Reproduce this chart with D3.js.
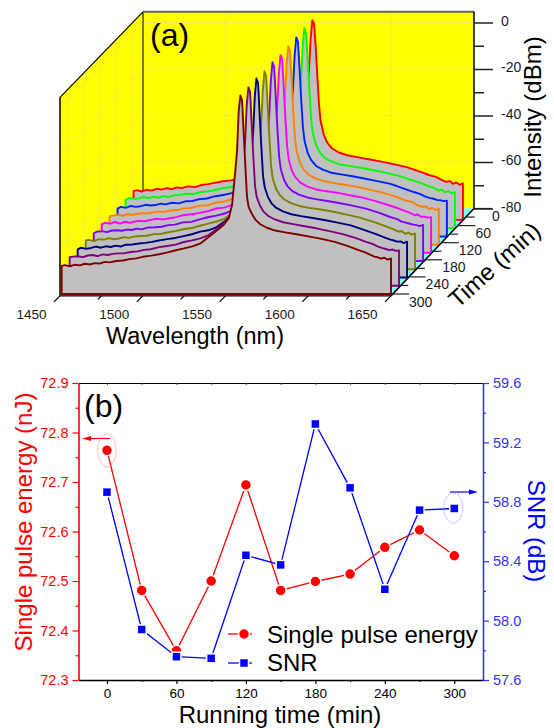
<!DOCTYPE html>
<html>
<head>
<meta charset="utf-8">
<script src="https://cdnjs.cloudflare.com/ajax/libs/d3/7.8.5/d3.min.js"></script>
<style>
  html, body { margin: 0; padding: 0; background: #fff; }
  text { font-family: "Liberation Sans", Arial, sans-serif; }
</style>
</head>
<body>
<div id="chart"></div>
<script>
// ==============================
// Data: panel (a), spectra (dBm)
// ==============================
var wavelengths = [1451,1453,1456,1459,1462,1465,1468,1471,1474,1477,1480,1484,1488,1492,1496,1500,1505,1510,1515,1520,1525,1530,1535,1540,1545,1549,1552,1554,1555,1556,1557,1558,1559,1560,1561,1562,1563,1564,1566,1568,1571,1575,1580,1586,1593,1600,1608,1616,1624,1630,1634,1637,1640,1642,1644,1646,1648,1650];

// Back to front. Position on the time axis
var seriesTime = [40, 69, 98, 127, 155, 184, 213, 242, 271, 300];
var seriesColors = ["#ff0000", "#00ff00", "#0022ff", "#ff8000", "#ff00ff", "#8000ff", "#808000", "#000080", "#800080", "#800000"];

var specRed     = [-67.6,-67.2,-67.8,-67.0,-67.4,-66.6,-67.0,-66.3,-66.8,-66.0,-66.3,-65.6,-65.9,-65.0,-64.6,-64.1,-63.4,-63.0,-62.0,-61.3,-60.3,-59.2,-57.8,-55.2,-52.0,-49.4,-46.6,-41.0,-33.0,-24.5,-15.5,-2.0,5.9,4.6,-5.0,-18.0,-30.0,-37.5,-43.5,-46.8,-49.3,-51.0,-52.2,-53.0,-53.9,-54.8,-56.0,-57.3,-59.2,-60.8,-61.6,-62.8,-63.6,-63.3,-64.5,-63.9,-64.9,-64.3];
var specGreen   = [-67.9,-67.0,-67.5,-67.2,-66.6,-67.1,-66.5,-66.9,-66.2,-66.6,-65.9,-65.7,-65.2,-65.3,-64.5,-64.3,-63.6,-62.8,-62.3,-61.1,-60.5,-59.4,-58.0,-55.5,-52.4,-49.8,-46.9,-41.3,-33.5,-25.0,-16.0,-2.5,6.0,4.0,-7.0,-20.0,-32.0,-38.5,-44.0,-47.0,-49.6,-51.2,-52.5,-53.2,-54.0,-55.0,-56.1,-57.5,-59.3,-60.7,-61.9,-62.6,-63.8,-63.4,-64.6,-64.1,-65.0,-64.5];
var specBlue    = [-68.0,-67.3,-67.7,-66.9,-67.3,-67.0,-66.4,-66.7,-66.5,-65.9,-66.2,-65.5,-65.8,-64.9,-64.8,-64.0,-63.7,-62.7,-62.2,-61.4,-60.2,-59.5,-57.9,-55.6,-52.2,-49.9,-47.0,-41.2,-33.2,-25.2,-16.4,-2.2,5.6,3.8,-8.0,-21.5,-33.0,-39.0,-44.3,-47.2,-49.7,-51.3,-52.6,-53.3,-54.1,-55.1,-56.2,-57.4,-59.4,-60.9,-61.8,-62.9,-63.5,-63.8,-64.3,-64.4,-64.8,-64.6];
var specOrange  = [-67.7,-67.5,-67.1,-67.6,-66.8,-67.2,-66.7,-66.4,-66.6,-66.2,-65.8,-65.9,-65.3,-65.1,-64.4,-64.2,-63.3,-63.1,-61.9,-61.5,-60.4,-59.3,-58.1,-55.3,-52.3,-49.7,-47.1,-41.4,-33.4,-25.4,-16.6,-2.6,5.3,3.6,-9.0,-22.5,-33.8,-39.6,-44.6,-47.4,-49.8,-51.4,-52.6,-53.4,-54.2,-55.0,-56.3,-57.6,-59.3,-61.0,-61.7,-63.0,-63.7,-63.5,-64.7,-64.2,-65.1,-64.4];
var specMagenta = [-67.8,-67.1,-67.6,-66.8,-67.5,-66.7,-67.2,-66.6,-66.3,-66.5,-66.0,-65.4,-65.7,-65.2,-64.7,-63.9,-63.5,-62.9,-62.2,-61.0,-60.6,-59.4,-58.0,-55.4,-52.5,-50.0,-47.2,-41.6,-33.6,-25.6,-17.0,-3.0,4.9,3.2,-9.5,-23.0,-34.5,-40.0,-45.0,-47.6,-49.9,-51.5,-52.7,-53.5,-54.2,-55.2,-56.2,-57.7,-59.5,-60.9,-62.0,-62.8,-63.9,-63.6,-64.6,-64.5,-64.9,-64.7];
var specViolet  = [-68.1,-67.4,-67.2,-67.6,-66.9,-66.8,-67.0,-66.5,-66.7,-66.1,-66.4,-65.6,-65.5,-65.3,-64.6,-64.4,-63.4,-63.2,-62.1,-61.2,-60.5,-59.6,-58.1,-55.5,-52.6,-50.1,-47.3,-41.4,-33.8,-26.0,-17.2,-2.4,5.5,3.5,-10.0,-23.5,-35.0,-40.5,-45.2,-47.8,-50.0,-51.5,-52.7,-53.5,-54.3,-55.2,-56.3,-57.6,-59.4,-61.1,-61.9,-63.1,-63.6,-64.0,-64.4,-64.6,-65.0,-64.5];
var specOlive   = [-67.6,-67.4,-67.9,-67.1,-67.3,-66.6,-67.1,-66.8,-66.2,-66.5,-66.0,-65.7,-65.6,-64.9,-64.9,-64.2,-63.6,-62.8,-62.3,-61.3,-60.4,-59.5,-58.2,-55.6,-52.5,-50.2,-47.3,-41.7,-34.0,-26.2,-17.6,-3.0,5.1,3.2,-10.5,-24.0,-35.8,-41.0,-45.4,-47.9,-50.0,-51.6,-52.8,-53.6,-54.3,-55.2,-56.4,-57.7,-59.4,-60.9,-62.0,-62.9,-63.8,-63.7,-64.8,-64.3,-65.1,-64.6];
var specNavy    = [-67.9,-67.2,-67.7,-67.3,-66.7,-67.2,-66.6,-66.9,-66.3,-66.7,-65.9,-65.8,-65.4,-65.1,-64.7,-64.1,-63.5,-63.0,-62.2,-61.4,-60.3,-59.7,-58.3,-55.7,-52.7,-50.1,-47.4,-41.6,-34.0,-26.4,-17.8,-2.2,5.6,3.6,-10.8,-24.4,-36.4,-41.2,-45.5,-48.0,-50.1,-51.6,-52.8,-53.6,-54.4,-55.3,-56.4,-57.6,-59.5,-61.0,-62.1,-63.0,-63.7,-64.1,-64.6,-64.5,-65.2,-64.6];
var specPurple  = [-67.7,-67.5,-67.3,-67.7,-67.0,-66.8,-67.3,-66.5,-66.8,-66.3,-66.1,-66.0,-65.5,-65.2,-64.6,-64.3,-63.4,-62.9,-62.3,-61.2,-60.5,-59.6,-58.2,-55.5,-52.6,-50.2,-47.5,-41.5,-34.0,-26.5,-18.0,-2.0,5.3,3.3,-11.0,-24.8,-37.2,-41.8,-45.6,-48.0,-50.0,-51.5,-52.7,-53.5,-54.4,-55.3,-56.5,-57.8,-59.5,-61.1,-62.0,-63.1,-63.8,-64.2,-64.7,-64.4,-65.0,-64.8];
var specMaroon  = [-67.9,-67.6,-68.1,-67.4,-67.7,-67.0,-67.3,-66.7,-66.9,-66.2,-66.4,-65.8,-65.6,-65.0,-64.7,-64.0,-63.5,-62.9,-62.1,-61.2,-60.4,-59.5,-58.2,-55.4,-52.6,-50.2,-47.4,-41.5,-34.0,-26.5,-18.0,-1.0,5.4,3.4,-11.0,-25.0,-38.3,-42.6,-45.6,-48.0,-50.0,-51.5,-52.7,-53.5,-54.3,-55.2,-56.3,-57.6,-59.4,-61.0,-62.0,-63.0,-63.9,-64.2,-64.8,-64.4,-65.2,-64.7];

var spectra = [specRed, specGreen, specBlue, specOrange, specMagenta, specViolet, specOlive, specNavy, specPurple, specMaroon];

var wavelengthTicks = [1450, 1500, 1550, 1600, 1650];
var wavelengthMinor = [1475, 1525, 1575, 1625];
var intensityTicks = [0, -20, -40, -60, -80];
var intensityMinor = [-10, -30, -50, -70];
var timeTicks = [0, 60, 120, 180, 240, 300];
var timeMinor = [30, 90, 150, 210, 270];

// ==============================
// Data: panel (b)
// ==============================
var runningTime = [0, 30, 60, 90, 120, 150, 180, 210, 240, 270, 300];
var pulseEnergy = [72.764, 72.481, 72.359, 72.5, 72.694, 72.481, 72.499, 72.514, 72.568, 72.603, 72.551];
var snr = [58.865, 57.94, 57.757, 57.746, 58.44, 58.375, 59.324, 58.894, 58.211, 58.744, 58.755];

var energyTicks = [72.3, 72.4, 72.5, 72.6, 72.7, 72.8, 72.9];
var energyMinor = [72.35, 72.45, 72.55, 72.65, 72.75, 72.85];
var snrTicks = [57.6, 58.0, 58.4, 58.8, 59.2, 59.6];
var snrMinor = [57.8, 58.2, 58.6, 59.0, 59.4];
var runTicks = [0, 60, 120, 180, 240, 300];
var runMinor = [30, 90, 150, 210, 270];

// ==============================
// Setup SVG Area
// ==============================
var svg = d3.select("#chart").append("svg")
  .attr("width", 554)
  .attr("height", 728)
  .style("display", "block");

// ==============================
// Panel (a): oblique 3D projection
// ==============================
var xScale = d3.scaleLinear().domain([1450, 1650]).range([60, 391]);
var zScale = d3.scaleLinear().domain([-80, 0]).range([294, 108]);
var depthX = d3.scaleLinear().domain([300, 0]).range([0, 83]);
var depthY = d3.scaleLinear().domain([300, 0]).range([0, -85.5]);

var px = (w, t) => xScale(w) + depthX(t);
var py = (z, t) => zScale(z) + depthY(t);
var corner = (w, z, t) => [px(w, t), py(z, t)];

var wallLine = d3.line();
var panelA = svg.append("g");

// Walls and floor
panelA.append("path")
  .attr("d", wallLine([corner(1450, -80, 0), corner(1650, -80, 0), corner(1650, 4.6, 0), corner(1450, 4.6, 0)]) + "Z")
  .attr("fill", "#ffff00");
panelA.append("path")
  .attr("d", wallLine([corner(1450, -80, 300), corner(1450, -80, 0), corner(1450, 4.6, 0), corner(1450, 4.6, 300)]) + "Z")
  .attr("fill", "#ffff00");
panelA.append("path")
  .attr("d", wallLine([corner(1450, -80.8, 300), corner(1650, -80.8, 300), corner(1650, -80, 0), corner(1450, -80, 0)]) + "Z")
  .attr("fill", "#80ffff");

// Dashed grid on the walls
var gridColor = "#dcdc90";
[-60, -40, -20, 0].forEach(function(z) {
  panelA.append("path")
    .attr("d", wallLine([corner(1450, z, 300), corner(1450, z, 0), corner(1650, z, 0)]))
    .attr("fill", "none").attr("stroke", gridColor).attr("stroke-dasharray", "2,2");
});
[1500, 1600].forEach(function(w) {
  panelA.append("path")
    .attr("d", wallLine([corner(w, -80, 0), corner(w, 4.6, 0)]))
    .attr("fill", "none").attr("stroke", gridColor).attr("stroke-dasharray", "2,2");
});
[40, 98, 155, 213, 271].forEach(function(t) {
  panelA.append("path")
    .attr("d", wallLine([corner(1450, -80, t), corner(1450, 4.6, t)]))
    .attr("fill", "none").attr("stroke", gridColor).attr("stroke-dasharray", "2,2");
});

// Frame lines behind the spectra
panelA.append("path")
  .attr("d", wallLine([corner(1450, -80, 0), corner(1450, 4.6, 0)]))
  .attr("stroke", "#4d4d20").attr("stroke-width", 1.5).attr("fill", "none");
panelA.append("path")
  .attr("d", wallLine([corner(1450, 4.6, 0), corner(1650, 4.6, 0)]))
  .attr("stroke", "#666").attr("stroke-width", 2).attr("fill", "none");
panelA.append("path")
  .attr("d", wallLine([corner(1450, 4.6, 300), corner(1450, 4.6, 0)]))
  .attr("stroke", "#000").attr("stroke-width", 1.2).attr("fill", "none");
panelA.append("path")
  .attr("d", wallLine([corner(1450, -80.8, 300), corner(1450, 4.6, 300)]))
  .attr("stroke", "#000").attr("stroke-width", 1.5).attr("fill", "none");
panelA.append("path")
  .attr("d", wallLine([corner(1650, -80, 0), corner(1650, 4.6, 0)]))
  .attr("stroke", "#000").attr("stroke-width", 1.5).attr("fill", "none");

// Spectra, filled down to the floor, back to front
spectra.forEach(function(values, i) {
  var t = seriesTime[i];
  var first = wavelengths[0];
  var last = wavelengths[wavelengths.length - 1];
  var pts = wavelengths.map((w, k) => corner(w, values[k], t));
  pts.unshift(corner(first, -80, t));
  pts.push(corner(last, -80, t));
  panelA.append("path")
    .attr("d", wallLine(pts) + "Z")
    .attr("fill", "#c0c0c0")
    .attr("stroke", seriesColors[i])
    .attr("stroke-width", 1.9)
    .attr("stroke-linejoin", "round");
});

// Front and time axis lines
panelA.append("path")
  .attr("d", wallLine([corner(1450, -80.8, 300), corner(1650, -80.8, 300)]))
  .attr("stroke", "#000").attr("stroke-width", 1.2).attr("fill", "none");
panelA.append("path")
  .attr("d", wallLine([corner(1650, -80.8, 300), corner(1650, -80, 0)]))
  .attr("stroke", "#000").attr("stroke-width", 1.5).attr("fill", "none");

// Wavelength ticks are slanted along the depth direction
var xTickBase = py(-80.8, 300);
wavelengthTicks.concat(wavelengthMinor).forEach(function(w) {
  var major = wavelengthTicks.indexOf(w) >= 0;
  var len = major ? 6 : 3.5;
  panelA.append("line")
    .attr("x1", xScale(w)).attr("y1", xTickBase)
    .attr("x2", xScale(w) - len).attr("y2", xTickBase + len)
    .attr("stroke", "#000").attr("stroke-width", 1.2);
});
panelA.selectAll(".wl-label")
  .data(wavelengthTicks)
  .enter().append("text")
  .attr("x", d => xScale(d) - 28.5)
  .attr("y", 319)
  .attr("text-anchor", "middle")
  .attr("font-size", 13.5)
  .attr("fill", "#1a1a1a")
  .text(d => d);

// Intensity axis on the back right edge
var zAxisScale = d3.scaleLinear().domain([-80, 0]).range([py(-80, 0), py(0, 0)]);
var zAxisGroup = panelA.append("g")
  .attr("transform", `translate(${px(1650, 0)}, 0)`);
zAxisGroup.call(d3.axisRight(zAxisScale).tickValues(intensityTicks).tickSize(19).tickPadding(8).tickFormat(d => String(d)));
zAxisGroup.select(".domain").remove();
zAxisGroup.selectAll("line").attr("stroke", "#222").attr("stroke-width", 1.5);
zAxisGroup.selectAll("text")
  .attr("font-size", 14).attr("font-family", "Liberation Sans").attr("fill", "#1a1a1a")
  .attr("dy", "0.18em");
var zMinorGroup = panelA.append("g")
  .attr("transform", `translate(${px(1650, 0)}, 0)`);
zMinorGroup.call(d3.axisRight(zAxisScale).tickValues(intensityMinor).tickSize(10).tickFormat(""));
zMinorGroup.select(".domain").remove();
zMinorGroup.selectAll("line").attr("stroke", "#222").attr("stroke-width", 1.5);

// Time axis, ticks run horizontally from the floor edge
timeTicks.concat(timeMinor).forEach(function(t) {
  var major = timeTicks.indexOf(t) >= 0;
  panelA.append("line")
    .attr("x1", px(1650, t)).attr("y1", py(-80, t))
    .attr("x2", px(1650, t) + (major ? 18 : 9)).attr("y2", py(-80, t))
    .attr("stroke", "#222").attr("stroke-width", 1.2);
});
panelA.selectAll(".time-label")
  .data(timeTicks)
  .enter().append("text")
  .attr("x", d => px(1650, d) + 18)
  .attr("y", d => py(-80, d) + 12.5)
  .attr("font-size", 14)
  .attr("fill", "#1a1a1a")
  .text(d => d);

// Titles
panelA.append("text").attr("x", 150).attr("y", 46).attr("font-size", 32).text("(a)");
panelA.append("text").attr("x", 195).attr("y", 343.5).attr("text-anchor", "middle").attr("font-size", 23.5).text("Wavelength (nm)");
panelA.append("text")
  .attr("transform", "translate(541, 117) rotate(-90)")
  .attr("text-anchor", "middle").attr("font-size", 24).text("Intensity (dBm)");
panelA.append("text")
  .attr("transform", "translate(500, 271) rotate(-42)")
  .attr("text-anchor", "middle").attr("font-size", 24).text("Time (min)");

// ==============================
// Panel (b): two y axes
// ==============================
var plot = { left: 78.5, right: 483, top: 383, bottom: 680 };
var redCol = "#ff0000";
var blueCol = "#0000ff";
var blueAxis = "#3333ff";

var runScale = d3.scaleLinear().domain([-24.6, 324.8]).range([plot.left, plot.right]);
var energyScale = d3.scaleLinear().domain([72.3, 72.9]).range([plot.bottom, plot.top]);
var snrScale = d3.scaleLinear().domain([57.6, 59.6]).range([plot.bottom, plot.top]);

var panelB = svg.append("g");

function drawAxis(axisFn, scale, translate, major, minor, size, color, fmt, fontSize) {
  var g = panelB.append("g").attr("transform", translate);
  g.call(axisFn(scale).tickValues(major).tickSize(size).tickSizeOuter(0).tickPadding(4).tickFormat(fmt));
  g.select(".domain").attr("stroke", color).attr("stroke-width", 1.6);
  g.selectAll("line").attr("stroke", color).attr("stroke-width", 1.2);
  g.selectAll("text")
    .attr("font-size", fontSize).attr("font-family", "Liberation Sans").attr("fill", color);
  var m = panelB.append("g").attr("transform", translate);
  m.call(axisFn(scale).tickValues(minor).tickSize(size / 2).tickSizeOuter(0).tickFormat(""));
  m.select(".domain").remove();
  m.selectAll("line").attr("stroke", color).attr("stroke-width", 1.2);
  return g;
}

// Top edge with small inward ticks
var topAxis = panelB.append("g").attr("transform", `translate(0, ${plot.top})`);
topAxis.call(d3.axisBottom(runScale).tickValues(runTicks.concat(runMinor)).tickSize(2).tickSizeOuter(0).tickFormat(""));
topAxis.select(".domain").attr("stroke", "#000").attr("stroke-width", 1.2);
topAxis.selectAll("line").attr("stroke", "#555");

drawAxis(d3.axisBottom, runScale, `translate(0, ${plot.bottom})`, runTicks, runMinor, 4, "#000", d => d, 13.5);
drawAxis(d3.axisLeft, energyScale, `translate(${plot.left}, 0)`, energyTicks, energyMinor, 6, redCol, d3.format(".1f"), 14.5);
drawAxis(d3.axisRight, snrScale, `translate(${plot.right}, 0)`, snrTicks, snrMinor, 6, blueAxis, d3.format(".1f"), 14.5);

// Lines
var energyLine = d3.line().x((d, i) => runScale(runningTime[i])).y(d => energyScale(d));
var snrLine = d3.line().x((d, i) => runScale(runningTime[i])).y(d => snrScale(d));

panelB.append("path").attr("d", energyLine(pulseEnergy))
  .attr("fill", "none").attr("stroke", redCol).attr("stroke-width", 1.3);
panelB.selectAll(".energy-pt")
  .data(pulseEnergy)
  .enter().append("circle")
  .attr("cx", (d, i) => runScale(runningTime[i]))
  .attr("cy", d => energyScale(d))
  .attr("r", 5.5)
  .attr("fill", redCol)
  .attr("stroke", "#fff").attr("stroke-width", 1.5);

panelB.append("path").attr("d", snrLine(snr))
  .attr("fill", "none").attr("stroke", blueCol).attr("stroke-width", 1.3);
panelB.selectAll(".snr-pt")
  .data(snr)
  .enter().append("rect")
  .attr("x", (d, i) => runScale(runningTime[i]) - 4.5)
  .attr("y", d => snrScale(d) - 4.5)
  .attr("width", 9)
  .attr("height", 9)
  .attr("fill", blueCol)
  .attr("stroke", "#fff").attr("stroke-width", 1.5);

// Arrows and dotted rings pointing each series to its axis
function arrow(x1, x2, y, color) {
  var dir = x2 > x1 ? 1 : -1;
  panelB.append("line").attr("x1", x1).attr("x2", x2 - dir * 6).attr("y1", y).attr("y2", y)
    .attr("stroke", color).attr("stroke-width", 1.2);
  panelB.append("path")
    .attr("d", `M${x2},${y}L${x2 - dir * 9},${y - 2.5}L${x2 - dir * 9},${y + 2.5}Z`)
    .attr("fill", color);
}
arrow(110, 82, 438.5, redCol);
arrow(450, 478, 492, blueCol);

panelB.append("ellipse")
  .attr("cx", runScale(runningTime[0])).attr("cy", energyScale(pulseEnergy[0]))
  .attr("rx", 9).attr("ry", 16.5)
  .attr("fill", "none").attr("stroke", "#ff7777").attr("stroke-dasharray", "1,1");
panelB.append("ellipse")
  .attr("cx", runScale(runningTime[10]) - 1).attr("cy", snrScale(snr[10]) - 0.5)
  .attr("rx", 9.5).attr("ry", 15)
  .attr("fill", "none").attr("stroke", "#8888ff").attr("stroke-dasharray", "1,1");

// Legend
panelB.append("line").attr("x1", 228).attr("x2", 252).attr("y1", 634).attr("y2", 634)
  .attr("stroke", redCol).attr("stroke-width", 1.3);
panelB.append("circle").attr("cx", 244).attr("cy", 634).attr("r", 5.5)
  .attr("fill", redCol).attr("stroke", "#fff").attr("stroke-width", 1.5);
panelB.append("text").attr("x", 267).attr("y", 642.5).attr("font-size", 24).text("Single pulse energy");
panelB.append("line").attr("x1", 228).attr("x2", 252).attr("y1", 663).attr("y2", 663)
  .attr("stroke", blueCol).attr("stroke-width", 1.3);
panelB.append("rect").attr("x", 239.5).attr("y", 658.5).attr("width", 9).attr("height", 9)
  .attr("fill", blueCol).attr("stroke", "#fff").attr("stroke-width", 1.5);
panelB.append("text").attr("x", 267).attr("y", 671).attr("font-size", 24).text("SNR");

// Titles
panelB.append("text").attr("x", 84).attr("y", 417).attr("font-size", 32).text("(b)");
panelB.append("text").attr("x", 280).attr("y", 723).attr("text-anchor", "middle").attr("font-size", 24).text("Running time (min)");
panelB.append("text")
  .attr("transform", "translate(32, 522) rotate(-90)")
  .attr("text-anchor", "middle").attr("font-size", 24).attr("fill", redCol).text("Single pulse energy (nJ)");
panelB.append("text")
  .attr("transform", "translate(528, 531) rotate(90)")
  .attr("text-anchor", "middle").attr("font-size", 24).attr("fill", blueCol).text("SNR (dB)");
</script>
</body>
</html>
